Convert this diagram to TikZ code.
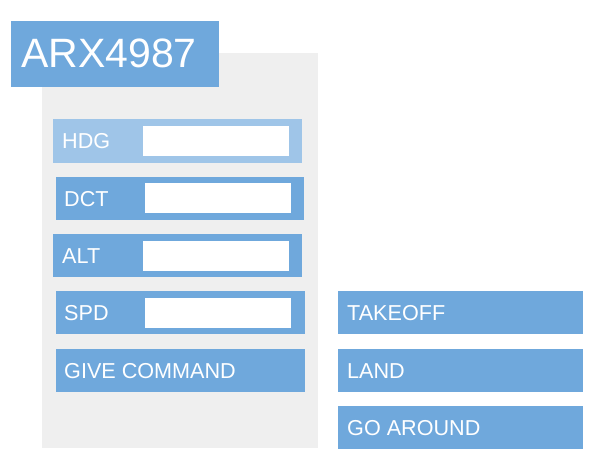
\documentclass[tikz,border=0pt]{standalone}
\usepackage{fontspec}
\setmainfont{Liberation Sans}
\definecolor{cblue}{HTML}{6FA8DC}
\definecolor{lblue}{HTML}{9FC5E8}
\definecolor{panelgray}{HTML}{EFEFEF}
\tikzset{
  bar/.style={fill=cblue, draw=none, anchor=north west, inner sep=0pt, minimum height=43pt},
  field/.style={fill=white, draw=none, anchor=north west, inner sep=0pt, minimum width=146pt, minimum height=30pt},
  lab/.style={anchor=west, inner sep=0pt, text=white, font=\fontsize{21.6}{21.6}\selectfont, text height=15.4pt, text depth=0pt},
}
\begin{document}
\begin{tikzpicture}[x=1pt,y=-1pt]
\useasboundingbox (0,0) rectangle (596,455);
% panel
\node[fill=panelgray, anchor=north west, inner sep=0pt, minimum width=276pt, minimum height=395pt] (panel) at (42,53) {};
% title
\node[fill=cblue, anchor=north west, inner sep=0pt, minimum width=208pt, minimum height=66pt] (title) at (11,21) {};
\node[anchor=west, inner sep=0pt, text=white, font=\fontsize{41}{41}\selectfont, text height=29.4pt, text depth=0pt] (titletext) at ([xshift=10pt,yshift=1.5pt]title.west) {ARX4987};
% rows
\node[bar, fill=lblue, minimum width=249pt, minimum height=44pt] (hdg) at (53,119) {};
\node[field] (hdgf) at (143,126) {};
\node[lab] (hdgt) at ([xshift=9pt]hdg.west) {HDG};

\node[bar, minimum width=248pt] (dct) at (56,177) {};
\node[field] (dctf) at (145,183) {};
\node[lab] (dctt) at ([xshift=8pt]dct.west) {DCT};

\node[bar, minimum width=249pt] (alt) at (53,234) {};
\node[field] (altf) at (143,241) {};
\node[lab] (altt) at ([xshift=9pt]alt.west) {ALT};

\node[bar, minimum width=249pt] (spd) at (56,291) {};
\node[field] (spdf) at (145,298) {};
\node[lab] (spdt) at ([xshift=8pt]spd.west) {SPD};

\node[bar, minimum width=249pt] (give) at (56,349) {};
\node[lab] (givet) at ([xshift=8pt]give.west) {GIVE COMMAND};

% right column
\node[bar, minimum width=245pt] (takeoff) at (338,291) {};
\node[lab] (takeofft) at ([xshift=9pt]takeoff.west) {TAKEOFF};
\node[bar, minimum width=245pt] (land) at (338,349) {};
\node[lab] (landt) at ([xshift=9pt]land.west) {LAND};
\node[bar, minimum width=245pt] (goaround) at (338,406) {};
\node[lab] (goaroundt) at ([xshift=9pt]goaround.west) {GO AROUND};
\end{tikzpicture}
\end{document}
